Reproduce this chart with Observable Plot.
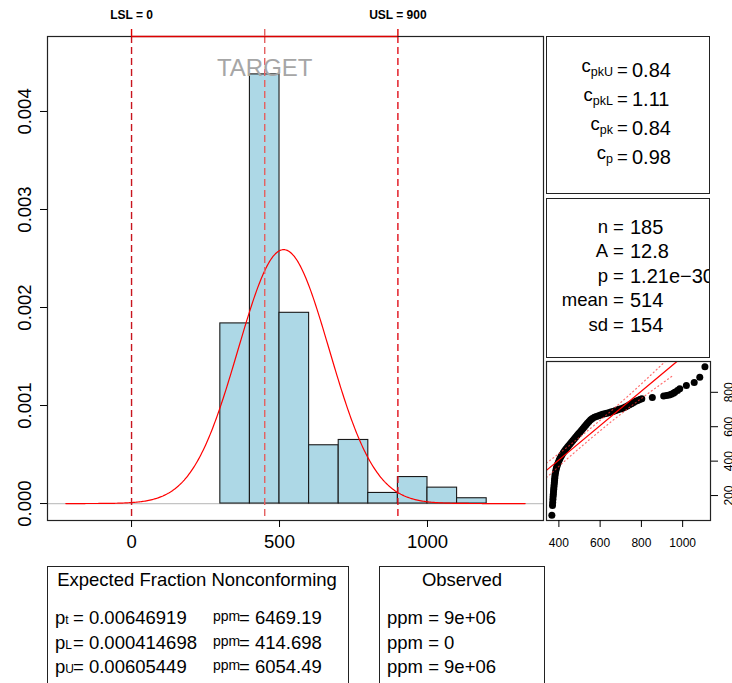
<!DOCTYPE html>
<html><head><meta charset="utf-8">
<script src="https://cdn.jsdelivr.net/npm/d3@7"></script>
<script src="https://cdn.jsdelivr.net/npm/@observablehq/plot@0.6"></script>
<style>
body{margin:0;background:#fff;}
#root{position:relative;width:732px;height:683px;overflow:hidden;font-family:"Liberation Sans",Arial,Helvetica,sans-serif;color:#000;background:#fff;}
#root svg{position:absolute;overflow:visible;}
.box{position:absolute;border:1px solid #222;box-sizing:border-box;overflow:hidden;}
.t{position:absolute;white-space:nowrap;}
</style></head><body><div id="root"></div>
<script>
const fontFamily = '"Liberation Sans", Arial, Helvetica, sans-serif';
// ---------- data ----------
const LSL = 0, USL = 900, TARGET = 450;
const binStarts = [300, 400, 500, 600, 700, 800, 900, 1000, 1100];
const binWidth = 100;
const binCounts = [34, 81, 36, 11, 12, 2, 5, 3, 1];
const nObs = 185;
const fitMean = 514, fitSd = 154;
const xTicks = [0, 500, 1000];
const yTicks = [0, 0.001, 0.002, 0.003, 0.004];
const capSubs = ["pkU", "pkL", "pk", "p"];
const capValues = ["0.84", "1.11", "0.84", "0.98"];
const statNames = ["n", "A", "p", "mean", "sd"];
const statValues = ["185", "12.8", "1.21e\u221230", "514", "154"];
const expSubs = ["t", "L", "U"];
const expP = ["0.00646919", "0.000414698", "0.00605449"];
const expPpm = ["6469.19", "414.698", "6054.49"];
const obsPpm = ["9e+06", "0", "9e+06"];
const qqSample = [366,369,370,371,372,373,374,375,376,377,378,379,380,381,382,384,386,388,391,394,398,402,406,411,416,422,428,434,441,447,454,461,468,475,482,489,496,503,510,517,524,531,538,546,554,562,572,582,592,602,612,622,632,642,652,662,672,682,692,702,712,722,732,742,752,762,772,782,792,802,853,908,922,935,945,955,962,975,986,1018,1056,1083,1108];
const qqTheo = [86,142,160,178,194,208,222,236,250,263,276,289,301,313,325,337,349,360,372,383,395,406,417,428,439,450,460,470,480,490,500,510,520,530,540,550,560,570,580,590,600,610,620,630,640,648,655,660,664,668,672,675,678,681,685,689,693,697,701,705,709,715,720,727,734,741,748,753,758,762,770,778,781,785,789,795,801,810,820,840,857,888,948];
const qqIntercept = 6.7, qqSlope = 1.0;
const bandX = [340, 450, 550, 650, 750, 850, 950];
const bandHalf = [42, 33, 30, 31, 37, 48, 62];
const qqXTicks = [400, 600, 800, 1000];
const qqYTicks = [200, 400, 600, 800];

const root = document.getElementById("root");

// ---------- main histogram ----------
const bins = binStarts.map((x0, i) => ({x1: x0, x2: x0 + binWidth, density: binCounts[i] / (nObs * binWidth)}));
const curve = d3.range(-222, 1331, 4).map(x => ({x, y: Math.exp(-0.5 * ((x - fitMean) / fitSd) ** 2) / (fitSd * Math.sqrt(2 * Math.PI))}));
const yBottom = -0.000173, yTop = 0.004765;
const specLabels = [{x: LSL, label: `LSL = ${LSL}`}, {x: USL, label: `USL = ${USL}`}];

const main = Plot.plot({
  width: 545, height: 560, marginLeft: 47, marginRight: 2, marginTop: 36, marginBottom: 40,
  style: {fontFamily, fontSize: "18.5px", background: "transparent", overflow: "visible", color: "#000"},
  x: {domain: [-284, 1392]},
  y: {domain: [yBottom, yTop]},
  marks: [
    Plot.ruleY([0], {stroke: "#c4c4c4", strokeWidth: 1.3}),
    Plot.rect(bins, {x1: "x1", x2: "x2", y1: 0, y2: "density", fill: "#ADD8E6", stroke: "#1a1a1a", strokeWidth: 1.1}),
    Plot.line(curve, {x: "x", y: "y", stroke: "#FF0000", strokeWidth: 1.2}),
    Plot.ruleX([LSL], {stroke: "#C8141E", strokeDasharray: "7,4", strokeWidth: 1.4}),
    Plot.ruleX([TARGET], {stroke: "#E46060", strokeDasharray: "7,4", strokeWidth: 1.4}),
    Plot.ruleX([USL], {stroke: "#E0101A", strokeDasharray: "7,4", strokeWidth: 1.4}),
    Plot.frame({stroke: "#222", strokeWidth: 1.2}),
    Plot.ruleY([yTop], {x1: LSL, x2: USL, stroke: "#DD0000", strokeWidth: 1.4}),
    Plot.ruleX([LSL, USL], {y1: yTop, y2: yTop, insetTop: -7, stroke: "#DD0000", strokeWidth: 1.4}),
    Plot.ruleX([TARGET], {y1: yTop, y2: yTop, insetTop: -7, stroke: "#E46060", strokeWidth: 1.4}),
    Plot.text(specLabels, {x: "x", text: "label", frameAnchor: "top", lineAnchor: "middle", dy: -21.5, fontWeight: "bold", fontSize: 12}),
    Plot.text([{x: TARGET, label: "TARGET"}], {x: "x", text: "label", frameAnchor: "top", lineAnchor: "middle", dy: 31.5, fontSize: 24, fill: "#a6a6a6"}),
    Plot.axisX({ticks: xTicks, tickSize: 7, tickPadding: 7, tickFormat: d => String(d), label: null}),
    Plot.axisY({ticks: yTicks, tickSize: 7, tickFormat: () => "", label: null}),
    Plot.text(yTicks, {y: d => d, text: d => d.toFixed(3), frameAnchor: "left", textAnchor: "middle", lineAnchor: "middle", dx: -22, rotate: -90, fontSize: 18.5})
  ]
});
main.style.left = "0px"; main.style.top = "0px";
root.appendChild(main);

// ---------- QQ plot ----------
const qqPoints = qqSample.map((x, i) => ({x, y: qqTheo[i]}));
const qqLine = [300, 1200].map(x => ({x, y: qqIntercept + qqSlope * x}));
const bandUp = bandX.map((x, i) => ({x, y: qqIntercept + qqSlope * x + bandHalf[i]}));
const bandLo = bandX.map((x, i) => ({x, y: qqIntercept + qqSlope * x - bandHalf[i]}));
const qq = Plot.plot({
  width: 232, height: 240, marginLeft: 46, marginRight: 22, marginTop: 31, marginBottom: 50,
  style: {fontFamily, fontSize: "12px", background: "transparent", overflow: "visible", color: "#000"},
  x: {domain: [340, 1135]},
  y: {domain: [55, 979]},
  marks: [
    Plot.dot(qqPoints, {x: "x", y: "y", r: 3.5, fill: "#000", stroke: "none", clip: true}),
    Plot.line(qqLine, {x: "x", y: "y", stroke: "#FF0000", strokeWidth: 1.3, clip: true}),
    Plot.line(bandUp, {x: "x", y: "y", stroke: "#FF3030", strokeDasharray: "1,3", strokeWidth: 1.2, strokeOpacity: 0.7, clip: true}),
    Plot.line(bandLo, {x: "x", y: "y", stroke: "#FF3030", strokeDasharray: "1,3", strokeWidth: 1.2, strokeOpacity: 0.7, clip: true}),
    Plot.frame({stroke: "#222", strokeWidth: 1.2}),
    Plot.axisX({ticks: qqXTicks, tickSize: 7, tickPadding: 11, tickFormat: d => String(d), label: null}),
    Plot.axisY({anchor: "right", ticks: qqYTicks, tickSize: 7, tickFormat: () => "", label: null}),
    Plot.text(qqYTicks, {y: d => d, text: d => String(d), frameAnchor: "right", textAnchor: "middle", lineAnchor: "middle", dx: 19, rotate: -90, fontSize: 12})
  ]
});
qq.style.left = "500px"; qq.style.top = "330px";
root.appendChild(qq);

// ---------- text boxes ----------
function box(l, t, r, b) {
  const d = document.createElement("div");
  d.className = "box";
  Object.assign(d.style, {left: l + "px", top: t + "px", width: (r - l) + "px", height: (b - t) + "px"});
  root.appendChild(d);
  return {el: d, l, t};
}
function txt(b, x, y, html, {anchor = "start", size = 18.5, color = "#000"} = {}) {
  const d = document.createElement("div");
  d.className = "t";
  d.innerHTML = html;
  d.style.fontSize = size + "px";
  d.style.lineHeight = size + "px";
  d.style.color = color;
  const ox = b.l + 1, oy = b.t + 1;
  d.style.left = (x - ox) + "px";
  d.style.top = (y - oy - 0.49 * size) + "px";
  if (anchor === "end") d.style.transform = "translateX(-100%)";
  if (anchor === "middle") d.style.transform = "translateX(-50%)";
  b.el.appendChild(d);
}
const sub = (s, size = 12.5, top = 0) => `<span style="font-size:${size}px;position:relative;top:${top}px">${s}</span>`;

const boxA = box(546, 36, 710, 194);
const capY = [70, 99, 128, 157];
capSubs.forEach((s, i) => {
  txt(boxA, 613, capY[i], `<span style="position:relative;top:-4px">c</span>${sub(s, 12.5, 0)}`, {anchor: "end"});
  txt(boxA, 617, capY[i], "=");
  txt(boxA, 632, capY[i], capValues[i], {size: 20});
});

const boxB = box(546, 198, 710, 358);
const statY = [227, 251, 276, 300, 325];
statNames.forEach((s, i) => {
  txt(boxB, 608, statY[i], s, {anchor: "end"});
  txt(boxB, 613, statY[i], "=");
  txt(boxB, 630, statY[i], statValues[i], {size: 20});
});

const boxC = box(47, 566, 349, 700);
txt(boxC, 197, 580, "Expected Fraction Nonconforming", {anchor: "middle"});
const rowY = [618, 643, 667];
expSubs.forEach((s, i) => {
  txt(boxC, 55, rowY[i], `p${sub(s, 12, 0)}`);
  txt(boxC, 73, rowY[i], `= ${expP[i]}`);
  txt(boxC, 213, rowY[i] - 2.5, "ppm", {size: 14});
  txt(boxC, 239, rowY[i], `= ${expPpm[i]}`);
});

const boxD = box(379, 566, 545, 700);
txt(boxD, 462, 580, "Observed", {anchor: "middle"});
obsPpm.forEach((v, i) => {
  txt(boxD, 387, rowY[i], `ppm = ${v}`);
});
</script></body></html>
